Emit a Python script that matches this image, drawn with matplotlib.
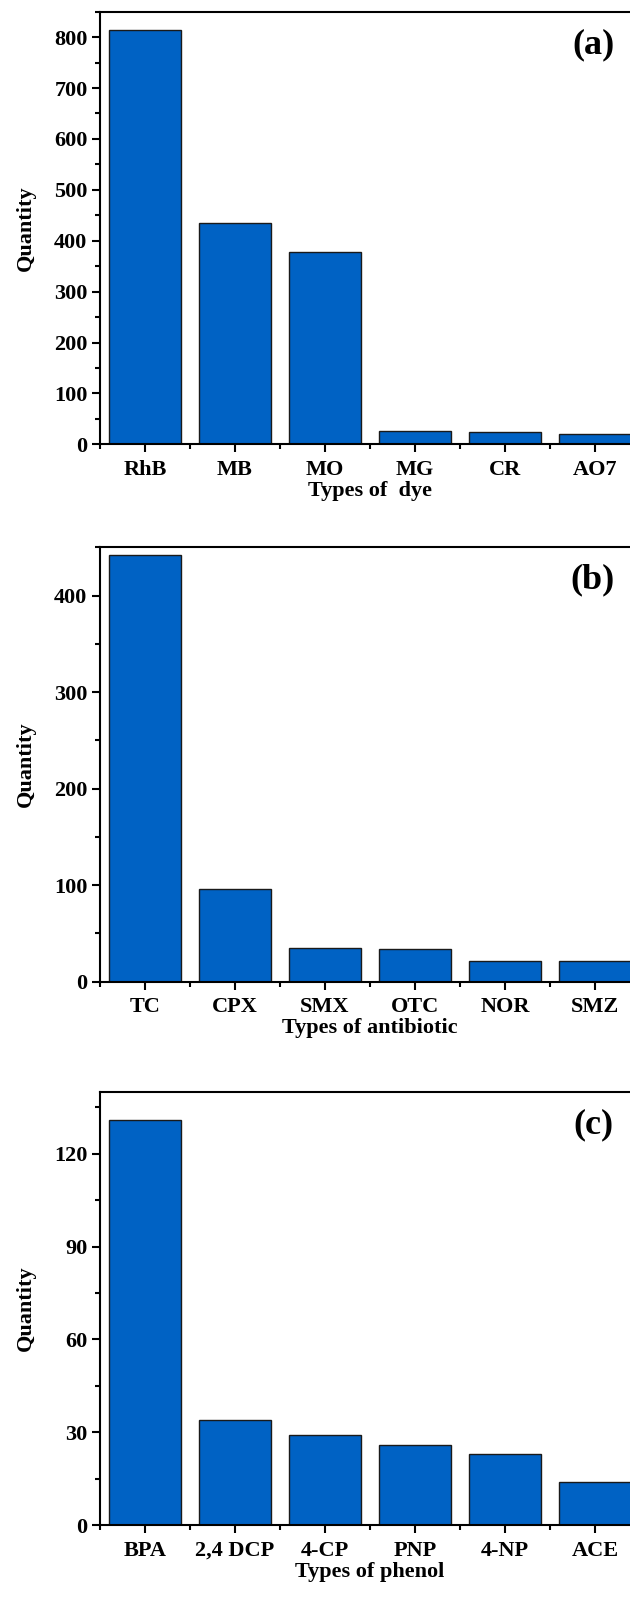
import numpy as np
import matplotlib
matplotlib.use('Agg')
import matplotlib.pyplot as plt
from matplotlib.ticker import MultipleLocator, FixedLocator

plt.rcParams['font.family'] = ['Liberation Serif', 'DejaVu Serif']
plt.rcParams['font.weight'] = 'bold'
plt.rcParams['axes.labelweight'] = 'bold'

# ── data ──
dye_names = ["RhB", "MB", "MO", "MG", "CR", "AO7"]
dye_counts = [814, 434, 377, 27, 25, 20]

anti_names = ["TC", "CPX", "SMX", "OTC", "NOR", "SMZ"]
anti_counts = [442, 96, 35, 34, 21, 21]

phenol_names = ["BPA", "2,4 DCP", "4-CP", "PNP", "4-NP", "ACE"]
phenol_counts = [131, 34, 29, 26, 23, 14]

panels = [
    (dye_names, dye_counts, "Types of  dye", 850, 100, 50, "(a)"),
    (anti_names, anti_counts, "Types of antibiotic", 450, 100, 50, "(b)"),
    (phenol_names, phenol_counts, "Types of phenol", 140, 30, 15, "(c)"),
]

W, H = 630, 1598
fig = plt.figure(figsize=(W / 100, H / 100), dpi=100)

# axes boxes in pixels: (left, top, right, bottom) - right edge runs off the canvas
boxes = [(100, 11.7, 640, 444.3), (100, 547.3, 640, 981.7), (100, 1091.7, 640, 1525.3)]
BAR_COLOR = "#0062C4"
FS = 16

for (names, counts, xlabel, ytop, major, minor, tag), (l, t, r, b) in zip(panels, boxes):
    ax = fig.add_axes([l / W, 1 - b / H, (r - l) / W, (b - t) / H])
    x = np.arange(len(names))
    ax.bar(x, counts, width=0.8, color=BAR_COLOR, edgecolor="#1a1a1a", linewidth=1.0)
    ax.set_xlim(-0.5, len(names) - 0.5)
    ax.set_ylim(0, ytop)

    ax.set_xticks(x)
    ax.set_xticklabels(names, fontsize=FS, fontweight="bold")
    ax.xaxis.set_minor_locator(FixedLocator(np.arange(-0.5, len(names), 1.0)))
    ax.yaxis.set_major_locator(MultipleLocator(major))
    ax.yaxis.set_minor_locator(MultipleLocator(minor))
    for lab in ax.get_yticklabels():
        lab.set_fontsize(FS)
        lab.set_fontweight("bold")

    ax.tick_params(which="major", direction="out", length=6, width=1.5, pad=3)
    ax.tick_params(which="minor", direction="out", length=3.5, width=1.5)
    ax.tick_params(axis="x", which="major", pad=5)
    for side in ["left", "bottom", "top"]:
        ax.spines[side].set_linewidth(1.5)
    ax.spines["right"].set_visible(False)

    ax.set_xlabel(xlabel, fontsize=FS, fontweight="bold", labelpad=1)
    ax.set_ylabel("Quantity", fontsize=FS, fontweight="bold")
    ax.yaxis.set_label_coords(-64 / (r - l), 0.5)

    # panel tag
    fig.text(593 / W, 1 - (t + 33) / H, tag, fontsize=26, fontweight="bold",
             ha="center", va="center")

fig.savefig("out.png", dpi=100)
